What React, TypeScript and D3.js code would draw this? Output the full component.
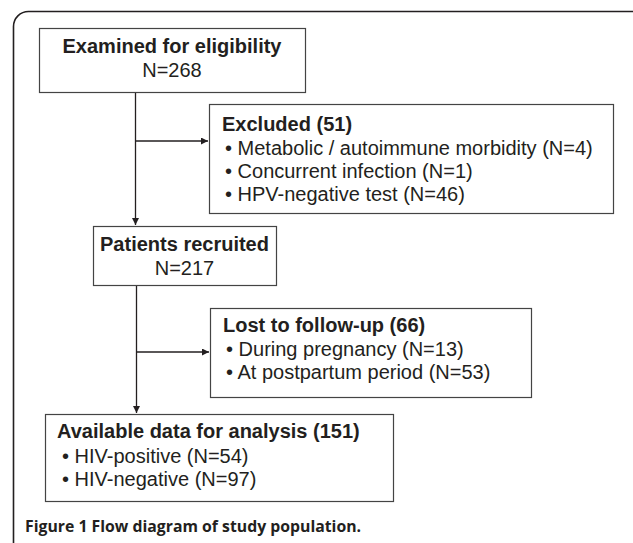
import { useEffect, useRef } from 'react';
import * as d3 from 'd3';

// flow stages (main column)
const stageTitles = ['Examined for eligibility', 'Patients recruited', 'Available data for analysis (151)'];
const stageCounts = ['N=268', 'N=217', ''];
const stageItems = [[], [], ['HIV-positive (N=54)', 'HIV-negative (N=97)']];

// side boxes
const sideTitles = ['Excluded (51)', 'Lost to follow-up (66)'];
const sideItems = [
  ['Metabolic / autoimmune morbidity (N=4)', 'Concurrent infection (N=1)', 'HPV-negative test (N=46)'],
  ['During pregnancy (N=13)', 'At postpartum period (N=53)'],
];

const caption = 'Figure 1 Flow diagram of study population.';

const W = 633;
const H = 543;
const INK = '#231f20';
const FONT = '"Liberation Sans", Arial, Helvetica, sans-serif';

// box layout
const stageBoxes = [
  { x: 39, y: 28, w: 266, h: 64 },
  { x: 93, y: 226, w: 183, h: 59 },
  { x: 45, y: 414, w: 348, h: 87 },
];
const sideBoxes = [
  { x: 209, y: 104, w: 404, h: 109 },
  { x: 210, y: 308, w: 321, h: 89 },
];

export default function App() {
  const svgRef = useRef<SVGSVGElement>(null);

  useEffect(() => {
    if (!svgRef.current) return;
    const svg = d3.select(svgRef.current);
    svg.selectAll('*').remove();

    const defs = svg.append('defs');
    defs
      .append('marker')
      .attr('id', 'arrow')
      .attr('viewBox', '0 0 10 10')
      .attr('refX', 10)
      .attr('refY', 5)
      .attr('markerWidth', 9)
      .attr('markerHeight', 7)
      .attr('markerUnits', 'userSpaceOnUse')
      .attr('orient', 'auto')
      .append('path')
      .attr('d', 'M0,0L10,5L0,10Z')
      .attr('fill', INK);

    // outer frame with rounded top-left corner
    const r = 15;
    const frame = d3.path();
    frame.moveTo(13.5, H + 2);
    frame.lineTo(13.5, 11.5 + r);
    frame.arcTo(13.5, 11.5, 13.5 + r, 11.5, r);
    frame.lineTo(W + 2, 11.5);
    svg
      .append('path')
      .attr('d', frame.toString())
      .attr('fill', 'none')
      .attr('stroke', INK)
      .attr('stroke-width', 1.6);

    // connectors
    const spineX = [135.5, 136.5];
    const links = [
      { x: spineX[0], y0: stageBoxes[0].y + stageBoxes[0].h, y1: stageBoxes[1].y, branchY: 141, side: sideBoxes[0] },
      { x: spineX[1], y0: stageBoxes[1].y + stageBoxes[1].h, y1: stageBoxes[2].y, branchY: 352, side: sideBoxes[1] },
    ];
    const lg = svg.append('g').attr('stroke', INK).attr('stroke-width', 1.3).attr('fill', 'none');
    links.forEach((l) => {
      lg.append('line')
        .attr('x1', l.x).attr('x2', l.x)
        .attr('y1', l.y0).attr('y2', l.y1 - 1)
        .attr('marker-end', 'url(#arrow)');
      lg.append('line')
        .attr('x1', l.x).attr('x2', l.side.x - 1)
        .attr('y1', l.branchY).attr('y2', l.branchY)
        .attr('marker-end', 'url(#arrow)');
    });

    const boxG = svg.append('g');
    const drawBox = (b: { x: number; y: number; w: number; h: number }) =>
      boxG
        .append('rect')
        .attr('x', b.x + 0.5)
        .attr('y', b.y + 0.5)
        .attr('width', b.w)
        .attr('height', b.h)
        .attr('fill', '#fff')
        .attr('stroke', '#444')
        .attr('stroke-width', 1.2);
    stageBoxes.forEach(drawBox);
    sideBoxes.forEach(drawBox);

    const tg = svg.append('g').attr('font-family', FONT).attr('fill', INK).attr('font-size', 20);

    // centred stage boxes
    [0, 1].forEach((i) => {
      const b = stageBoxes[i];
      const cx = b.x + b.w / 2;
      tg.append('text').attr('x', cx).attr('y', b.y + 25).attr('text-anchor', 'middle')
        .attr('font-weight', 'bold').text(stageTitles[i]);
      tg.append('text').attr('x', cx).attr('y', b.y + 49).attr('text-anchor', 'middle')
        .text(stageCounts[i]);
    });

    // final stage box, left aligned
    {
      const b = stageBoxes[2];
      tg.append('text').attr('x', b.x + 12).attr('y', b.y + 24)
        .attr('font-weight', 'bold').text(stageTitles[2]);
      stageItems[2].forEach((t, j) => {
        tg.append('text').attr('x', b.x + 17).attr('y', b.y + 49 + j * 22.5).text(`\u2022 ${t}`);
      });
    }

    // side boxes
    sideBoxes.forEach((b, i) => {
      tg.append('text').attr('x', b.x + 13).attr('y', b.y + (i === 0 ? 27 : 24))
        .attr('font-weight', 'bold').text(sideTitles[i]);
      sideItems[i].forEach((t, j) => {
        tg.append('text').attr('x', b.x + 16).attr('y', b.y + (i === 0 ? 51 : 48) + j * 23).text(`\u2022 ${t}`);
      });
    });

    svg
      .append('text')
      .attr('x', 25)
      .attr('y', 532)
      .attr('font-family', '"Open Sans", "Noto Sans", sans-serif')
      .attr('font-weight', 'bold')
      .attr('font-size', 15.8)
      .attr('fill', INK)
      .text(caption);
  }, []);

  return (
    <svg
      ref={svgRef}
      width={W}
      height={H}
      style={{ position: 'absolute', left: 0, top: 0, background: '#fff' }}
    />
  );
}
